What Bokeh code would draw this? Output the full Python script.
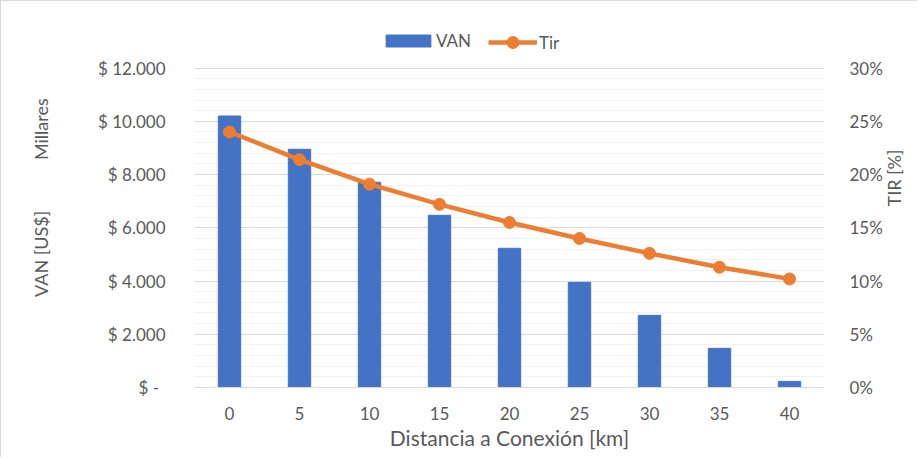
import math
from bokeh.plotting import figure
from bokeh.models import (Range1d, LinearAxis, FixedTicker, CustomJSTickFormatter,
                          PrintfTickFormatter, Legend, LegendItem, ColumnDataSource)
from bokeh.embed import file_html
from bokeh.resources import INLINE

# ---- data ----
distancias = ["0", "5", "10", "15", "20", "25", "30", "35", "40"]
van_millares = [10200, 8950, 7710, 6470, 5230, 3950, 2710, 1470, 230]
tir_pct = [24.0, 21.4, 19.1, 17.2, 15.5, 14.0, 12.6, 11.3, 10.2]
van_ticks = [0, 2000, 4000, 6000, 8000, 10000, 12000]
tir_ticks = [0, 5, 10, 15, 20, 25, 30]
x_title = "Distancia a Conexión [km]"
y_title = "VAN [US$]"
y_units = "Millares"
y2_title = "TIR [%]"

FONT = "Lato"
GRAY = "#595959"
NB = "\u00a0"

# the frame also holds the legend strip above the 12.000 line
VAN_TOP = 13600
TIR_TOP = VAN_TOP * tir_ticks[-1] / van_ticks[-1]
minor = [t + k * (van_ticks[1] - van_ticks[0]) / 5 for t in van_ticks[:-1] for k in range(1, 5)]

src = ColumnDataSource(dict(x=distancias, van=van_millares, tir=tir_pct))

p = figure(width=917, height=457, x_range=distancias, y_range=Range1d(0, VAN_TOP),
           output_backend="svg", toolbar_location=None,
           min_border_left=193, min_border_right=94, min_border_top=24, min_border_bottom=71)
p.extra_y_ranges = {"tir": Range1d(0, TIR_TOP)}
p.outline_line_color = None
p.background_fill_color = "white"
p.border_fill_color = "white"
p.styles = {"border-top": "1px solid #d9d9d9", "border-left": "1px solid #d9d9d9"}

bars = p.vbar(x="x", top="van", width=0.32, source=src, fill_color="#4472C4", line_color="#4472C4")
line = p.line(x="x", y="tir", source=src, y_range_name="tir", line_color="#ED7D31", line_width=4.5)
pts = p.scatter(x="x", y="tir", source=src, y_range_name="tir", size=12,
                fill_color="#ED7D31", line_color="#ED7D31")

# left axis
ya = p.yaxis[0]
ya.ticker = FixedTicker(ticks=van_ticks, minor_ticks=minor)
ya.formatter = CustomJSTickFormatter(code="""
if (tick == 0) { return "$ -\u00a0\u2009"; }
return "$ " + Math.round(tick).toString().replace(/\\B(?=(\\d{3})+(?!\\d))/g, ".");
""")
ya.axis_line_color = None
ya.major_tick_line_color = None
ya.minor_tick_line_color = None
ya.major_label_standoff = 23
ya.major_label_text_font = FONT
ya.major_label_text_font_size = "17px"
ya.major_label_text_color = GRAY
ya.axis_label = NB * 4 + y_title + NB * 11 + y_units
ya.axis_label_text_font = FONT
ya.axis_label_text_font_size = "18px"
ya.axis_label_text_font_style = "normal"
ya.axis_label_text_color = GRAY
ya.axis_label_standoff = 43

# right axis
ra = LinearAxis(y_range_name="tir", ticker=FixedTicker(ticks=tir_ticks),
                formatter=PrintfTickFormatter(format="%d%%"))
ra.axis_line_color = None
ra.major_tick_line_color = None
ra.minor_tick_line_color = None
ra.major_label_standoff = 19
ra.major_label_text_font = FONT
ra.major_label_text_font_size = "17px"
ra.major_label_text_color = GRAY
ra.axis_label = y2_title
ra.axis_label_orientation = math.pi / 2
ra.axis_label_text_font = FONT
ra.axis_label_text_font_size = "18px"
ra.axis_label_text_font_style = "normal"
ra.axis_label_text_color = GRAY
ra.axis_label_standoff = 8
p.add_layout(ra, "right")

# x axis
xa = p.xaxis[0]
xa.axis_line_color = "#d9d9d9"
xa.major_tick_line_color = None
xa.minor_tick_line_color = None
xa.major_label_standoff = 13
xa.major_label_text_font = FONT
xa.major_label_text_font_size = "17px"
xa.major_label_text_color = GRAY
xa.axis_label = x_title
xa.axis_label_text_font = FONT
xa.axis_label_text_font_size = "21px"
xa.axis_label_text_font_style = "normal"
xa.axis_label_text_color = GRAY
xa.axis_label_standoff = 2

# grid
p.xgrid.grid_line_color = None
p.ygrid.grid_line_color = "#d9d9d9"
p.ygrid.minor_grid_line_color = "#f2f2f2"

common = dict(orientation="horizontal", padding=0, margin=0, spacing=0,
              label_text_font=FONT, label_text_font_size="17px", label_text_color=GRAY,
              background_fill_alpha=0, border_line_color=None)
leg_van = Legend(items=[LegendItem(label="VAN", renderers=[bars])], location=(186, 336),
                 glyph_width=56, glyph_height=15, label_height=15, label_standoff=0, **common)
leg_tir = Legend(items=[LegendItem(label="Tir", renderers=[line, pts])], location=(294, 330),
                 glyph_width=49, glyph_height=30, label_height=30, label_standoff=2, **common)
p.add_layout(leg_van, "center")
p.add_layout(leg_tir, "center")

open("out.html", "w").write(file_html(p, INLINE))
